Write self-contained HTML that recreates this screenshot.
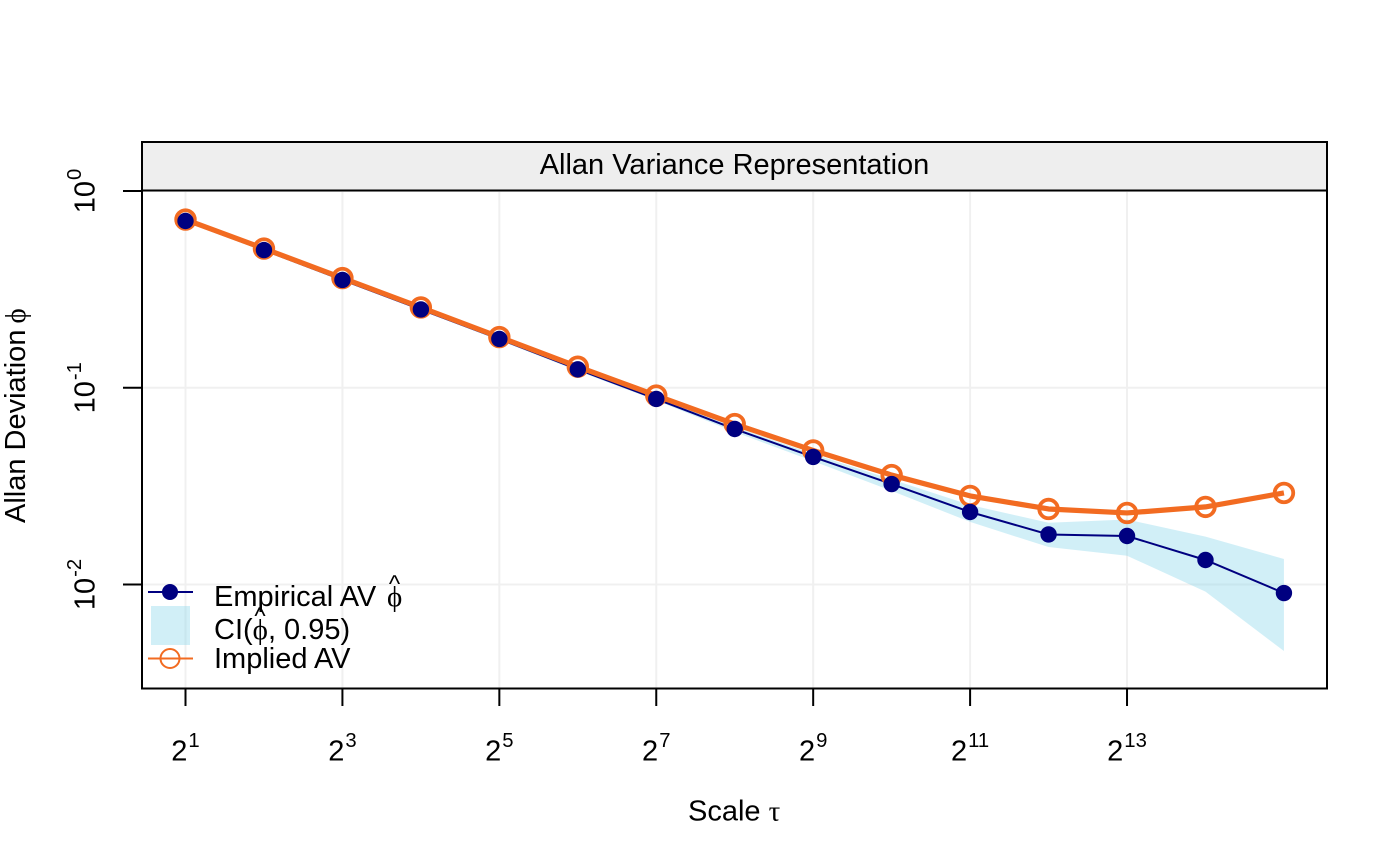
<!DOCTYPE html>
<html>
<head>
<meta charset="utf-8">
<style>
html,body{margin:0;padding:0;background:#fff;width:1400px;height:865px;overflow:hidden}
svg{display:block}
text{font-family:"Liberation Sans",Arial,sans-serif;fill:#000;font-size:29px}
.sym{font-family:"Liberation Serif","DejaVu Serif",serif}
.sup{font-size:20.3px}
.hat{font-size:24px}
</style>
</head>
<body>
<svg id="chart" width="1400" height="865" viewBox="0 0 1400 865" xmlns="http://www.w3.org/2000/svg">
  <rect x="0" y="0" width="1400" height="865" fill="#fff"/>
  <g id="grid"></g>
  <g id="ci"></g>
  <g id="lines"></g>
  <g id="impliedPts"></g>
  <g id="empiricalPts"></g>

  <rect x="142" y="142" width="1185" height="48.5" fill="#eeeeee" stroke="#000" stroke-width="2"/>
  <text x="734.5" y="174" text-anchor="middle">Allan Variance Representation</text>
  <rect x="142" y="142" width="1185" height="546.5" fill="none" stroke="#000" stroke-width="2"/>

  <g id="xaxis"></g>
  <g id="yaxis"></g>

  <text x="688" y="820.5">Scale <tspan class="sym">τ</tspan></text>
  <text transform="translate(25,523) rotate(-90)">Allan Deviation <tspan class="sym" dx="-2">ϕ</tspan></text>

  <g>
    <line x1="148" y1="592" x2="193" y2="592" stroke="#000080" stroke-width="2"/>
    <circle cx="170" cy="592" r="8" fill="#000080"/>
    <text x="214" y="606">Empirical AV</text>
    <text class="sym" x="387" y="606">ϕ</text>
    <text class="hat" x="394.5" y="592" text-anchor="middle">^</text>
    <rect x="151" y="606" width="39" height="39" fill="rgba(135,214,235,0.38)"/>
    <text x="214" y="639">CI(<tspan class="sym">ϕ</tspan>, 0.95)</text>
    <text class="hat" x="260" y="624" text-anchor="middle">^</text>
    <line x1="148" y1="658.5" x2="193" y2="658.5" stroke="#F26B21" stroke-width="2"/>
    <circle cx="170" cy="658.5" r="9.5" fill="none" stroke="#F26B21" stroke-width="2"/>
    <text x="214" y="668">Implied AV</text>
  </g>
</svg>
<script>
var scales = [2,4,8,16,32,64,128,256,512,1024,2048,4096,8192,16384,32768];
var empirical = [0.704,0.501,0.353,0.25,0.177,0.124,0.0877,0.0617,0.0445,0.0324,0.02336,0.01796,0.01764,0.01332,0.00905];
var implied = [0.716,0.51,0.361,0.256,0.181,0.128,0.0913,0.0654,0.048,0.036,0.0282,0.0242,0.0231,0.0248,0.0292];
var ciUpper = [0.712,0.507,0.357,0.253,0.179,0.126,0.0892,0.0632,0.0461,0.0342,0.02535,0.0206,0.0214,0.0175,0.01348];
var ciLower = [0.696,0.495,0.349,0.247,0.174,0.1216,0.0861,0.0596,0.0424,0.0299,0.0208,0.0155,0.014,0.0092,0.00459];
var xTickExponents = [1,3,5,7,9,11,13];
var yTickExponents = [0,-1,-2];

var NS = 'http://www.w3.org/2000/svg';
function xLog2(e){ return 185.5 + (e - 1) * 78.46; }
function xScale(s){ return xLog2(Math.log(s) / Math.LN2); }
function yLog10(e){ return 191 - e * 196.75; }
function yScale(v){ return yLog10(Math.log(v) / Math.LN10); }
function mk(parent, tag, attrs){
  var el = document.createElementNS(NS, tag);
  for (var k in attrs) el.setAttribute(k, attrs[k]);
  document.getElementById(parent).appendChild(el);
  return el;
}
function pts(values){
  return values.map(function(v, i){ return xScale(scales[i]).toFixed(2) + ',' + yScale(v).toFixed(2); });
}

xTickExponents.forEach(function(e){
  var x = xLog2(e);
  var g = mk('grid', 'line', {x1:x, y1:190, x2:x, y2:688, stroke:'#f0f0f0', 'stroke-width':2});
  
  
  var t = mk('xaxis', 'line', {x1:x, y1:688, x2:x, y2:706, stroke:'#000', 'stroke-width':2});
  
  
  var l = mk('xaxis', 'text', {x:x, y:760.5, 'text-anchor':'middle'});
  
  
  l.textContent = '2';
  var s = mk('xaxis', 'tspan', {});
  l.appendChild(s);
  s.setAttribute('class', 'sup');
  s.setAttribute('dy', '-13.3');
  s.setAttribute('dx', '1');
  s.textContent = String(e);
});

yTickExponents.forEach(function(e){
  var y = yLog10(e);
  var g = mk('grid', 'line', {x1:142, y1:y, x2:1327, y2:y, stroke:'#f0f0f0', 'stroke-width':2});
  
  
  var t = mk('yaxis', 'line', {x1:123, y1:y, x2:142, y2:y, stroke:'#000', 'stroke-width':2});
  
  
  var l = mk('yaxis', 'text', {transform:'translate(94.5,' + y + ') rotate(-90)', 'text-anchor':'middle'});
  
  
  l.textContent = '10';
  var s = mk('yaxis', 'tspan', {});
  l.appendChild(s);
  s.setAttribute('class', 'sup');
  s.setAttribute('dy', '-13.3');
  s.setAttribute('dx', '1');
  s.textContent = String(e);
});

var band = mk('ci', 'polygon', {points: pts(ciUpper).concat(pts(ciLower).reverse()).join(' '), fill:'rgba(135,214,235,0.38)'});



var navyLine = mk('lines', 'polyline', {points: pts(empirical).join(' '), fill:'none', stroke:'#000080', 'stroke-width':2});



var orangeLine = mk('lines', 'polyline', {points: pts(implied).join(' '), fill:'none', stroke:'#F26B21', 'stroke-width':5.2, 'stroke-linejoin':'round'});



implied.forEach(function(v, i){
  var c = mk('impliedPts', 'circle', {cx:xScale(scales[i]), cy:yScale(v), r:9.3, fill:'none', stroke:'#F26B21', 'stroke-width':3.8});
  
  
});
empirical.forEach(function(v, i){
  var c = mk('empiricalPts', 'circle', {cx:xScale(scales[i]), cy:yScale(v), r:8.2, fill:'#000080'});
  
  
});
</script>
</body>
</html>
